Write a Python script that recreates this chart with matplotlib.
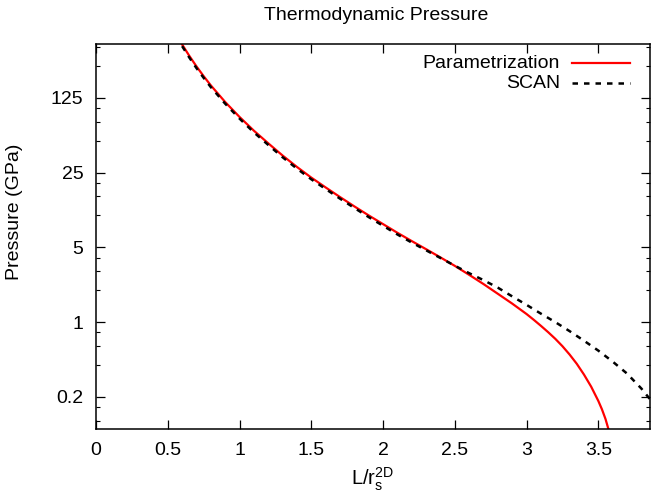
import matplotlib
matplotlib.use('Agg')
import matplotlib.pyplot as plt
from matplotlib.ticker import FixedLocator, NullFormatter

plt.rcParams['font.family'] = ['Liberation Sans', 'DejaVu Sans']
plt.rcParams['mathtext.fontset'] = 'custom'
plt.rcParams['mathtext.rm'] = 'Liberation Sans'
plt.rcParams['mathtext.it'] = 'Liberation Sans'

# values (L/rs^2D, pressure in GPa)
param_x = [0.60, 0.65, 0.70, 0.75, 0.80, 0.90, 1.00, 1.10, 1.20, 1.30, 1.40, 1.50,
           1.60, 1.70, 1.80, 1.90, 2.00, 2.10, 2.20, 2.30, 2.40, 2.50, 2.60, 2.70,
           2.80, 2.90, 3.00, 3.05, 3.10, 3.15, 3.20, 3.25, 3.30, 3.35, 3.40, 3.45,
           3.50, 3.525, 3.55, 3.575, 3.59]
param_p = [396, 310, 247, 200, 164, 114.6, 83.1, 61.8, 47.1, 36.2, 28.3, 22.5,
           18.2, 14.8, 12.1, 9.96, 8.26, 6.85, 5.73, 4.81, 4.03, 3.36, 2.77, 2.27,
           1.84, 1.49, 1.19, 1.051, 0.923, 0.806, 0.698, 0.595, 0.497, 0.407, 0.323, 0.249,
           0.183, 0.153, 0.124, 0.095, 0.078]

scan_x = [0.60, 0.65, 0.70, 0.75, 0.80, 0.90, 1.00, 1.10, 1.20, 1.30, 1.40, 1.50,
          1.60, 1.70, 1.80, 1.90, 2.00, 2.10, 2.20, 2.30, 2.40, 2.50, 2.60, 2.70,
          2.80, 2.90, 3.00, 3.10, 3.20, 3.30, 3.40, 3.50, 3.60, 3.70, 3.80, 3.86]
scan_p = [382, 299, 238, 193, 158, 110.6, 80.2, 59.6, 45.5, 34.9, 27.3, 21.7,
          17.6, 14.3, 11.7, 9.61, 7.97, 6.61, 5.55, 4.70, 3.98, 3.37, 2.87, 2.47,
          2.10, 1.74, 1.45, 1.20, 1.00, 0.823, 0.670, 0.541, 0.427, 0.330, 0.239, 0.19]

series_labels = ['Parametrization', 'SCAN']

y_ticks = [0.2, 1, 5, 25, 125]
y_tick_labels = ['0.2', '1', '5', '25', '125']
y_minor = [m * 5.0 ** k for k in range(-2, 4) for m in (2, 3, 4)]
x_ticks = [0, 0.5, 1, 1.5, 2, 2.5, 3, 3.5]
x_tick_labels = ['0', '0.5', '1', '1.5', '2', '2.5', '3', '3.5']

FS = 14

fig = plt.figure(figsize=(6.51, 4.98), dpi=100)
ax = fig.add_axes([96 / 651, 69 / 498, 554 / 651, 385 / 498])

red_style = dict(color='#ff0000', lw=1.6)
black_style = dict(color='black', lw=1.8, dashes=(2.2, 2.4))

ax.plot(param_x, param_p, **red_style)
ax.plot(scan_x, scan_p, **black_style)

ax.set_yscale('log')
ax.set_xlim(0, 3.86)
ax.set_ylim(0.1, 400)
ax.yaxis.set_major_locator(FixedLocator(y_ticks))
ax.set_yticklabels(y_tick_labels)
ax.yaxis.set_minor_locator(FixedLocator(y_minor))
ax.yaxis.set_minor_formatter(NullFormatter())
ax.set_xticks(x_ticks)
ax.set_xticklabels(x_tick_labels)

ax.tick_params(which='both', direction='in', top=True, right=True, labelsize=FS)
ax.tick_params(which='major', length=6.5, width=0.9, pad=9)
ax.tick_params(which='minor', length=3.2, width=0.8)
for s in ax.spines.values():
    s.set_linewidth(1.1)

ax.set_xlabel(r'L/r$_{\rm s}^{\rm 2D}$', fontsize=14.5, labelpad=5)
ax.set_ylabel('Pressure (GPa)', fontsize=FS, va='center')
ax.yaxis.set_label_coords(-0.147, 0.564)
fig.text(376 / 651, 1 - 15 / 498, 'Thermodynamic Pressure', fontsize=FS,
         ha='center', va='center')

# gnuplot-style key: right-justified text, sample line to the right
for label, style, ky in zip(series_labels, (red_style, black_style), (0.9506, 0.8987)):
    ax.text(0.8375, ky, label, transform=ax.transAxes, ha='right', va='center', fontsize=FS)
    ax.plot([0.859, 0.964], [ky, ky], transform=ax.transAxes, clip_on=False, **style)

fig.savefig('out.png', dpi=100)
